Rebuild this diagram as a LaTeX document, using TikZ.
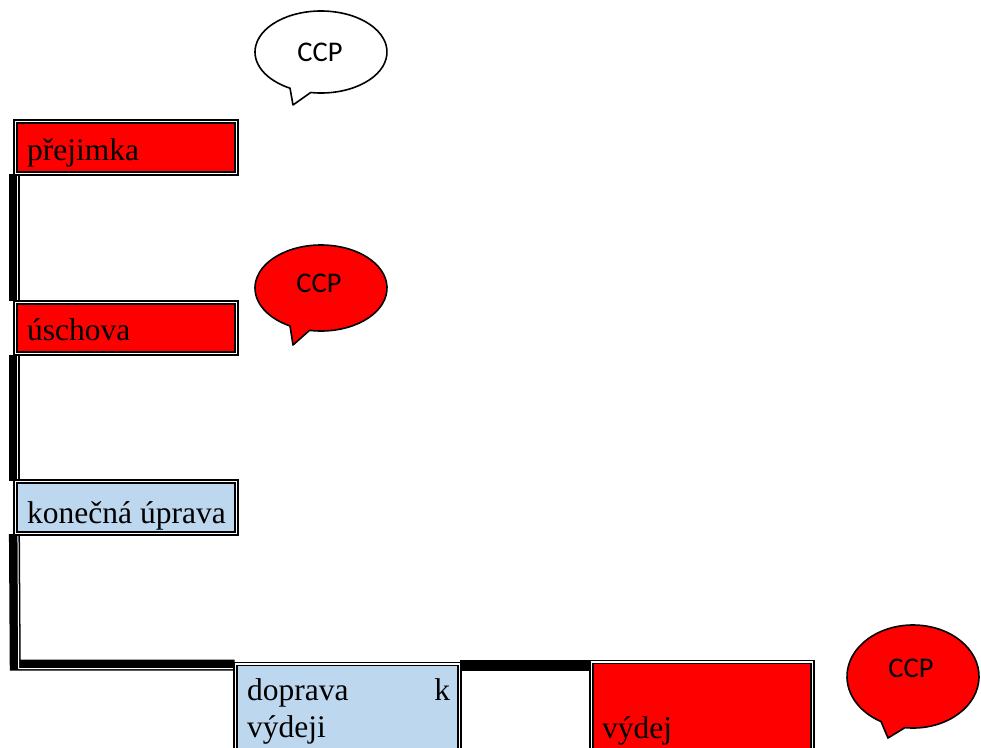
\documentclass[tikz,border=0pt]{standalone}
\usepackage{fontspec}
\setmainfont{Liberation Serif}
\newfontfamily\calibrifont{Carlito}
\usetikzlibrary{backgrounds,calc}
\definecolor{boxred}{RGB}{255,0,0}
\definecolor{boxblue}{RGB}{189,215,238}
\begin{document}
\begin{tikzpicture}[x=1pt,y=-1pt,
  boxst/.style={rectangle, draw=black, double=white, double distance=1.4pt,
    line width=1.6pt, inner sep=0pt, minimum width=221.5pt, minimum height=51.5pt},
  txt/.style={inner sep=0pt, anchor=base west, font=\fontsize{31.5}{37}\selectfont},
  conn/.style={black, line width=11pt},
  connwhite/.style={white, line width=1pt},
  callout/.style={draw=black, line width=1.6pt, line join=round},
  ccptext/.style={inner sep=0pt, font=\calibrifont\fontsize{28.5}{32}\selectfont}]
\useasboundingbox (0,0) rectangle (981,747);

% boxes
\node[boxst, fill=boxred] (b1) at (126,147.5) {};
\node[boxst, fill=boxred] (b2) at (126,328) {};
\node[boxst, fill=boxblue] (b3) at (126,507.5) {};
\node[boxst, fill=boxblue, minimum width=224pt, minimum height=136pt] (b4) at (347.5,732) {};
\node[boxst, fill=boxred, minimum height=138pt] (b5) at (702,731) {};

% texts
\node[txt] (t1) at (27,160) {přejimka};
\node[txt] (t2) at (27,340.5) {úschova};
\node[txt] (t3) at (27,523.3) {konečná úprava};
\node[txt] (t4a) at (247,700) {\hbox to 203pt{doprava\hfill k}};
\node[txt] (t4b) at (247,737) {výdeji};
\node[txt] (t5) at (602,738) {výdej};

% connectors
\coordinate (corner) at (15.25,665);
\begin{scope}[on background layer]
  \draw[conn] (b1.south west) -- (b2.north west);
  \draw[conn] (b2.south west) -- (b3.north west);
  \draw[conn] (b3.south west) -- (corner) -- (corner -| b4.west);
  \draw[conn] (corner -| b4.east) -- (corner -| b5.west);
  \draw[connwhite] ([xshift=3.5pt]b1.south west) -- ([xshift=3.5pt]b2.north west);
  \draw[connwhite] ([xshift=3.5pt]b2.south west) -- ([xshift=3.5pt]b3.north west);
  \draw[connwhite] ([xshift=3.5pt]b3.south west) -- ([shift={(3.5,3.5)}]corner) -- ([yshift=-3.5pt]corner -| b4.west);
\end{scope}

% callouts
\coordinate (e1) at (321,52);
\coordinate (tip1) at (293,105);
\draw[callout, fill=white] ($(e1)+(118:66 and 41)$) -- (tip1) -- ($(e1)+(99:66 and 41)$)
  arc[start angle=99, end angle=-242, x radius=66, y radius=41] -- cycle;
\node[ccptext] (ccp1) at (320,52) {CCP};

\coordinate (e2) at (321,288);
\coordinate (tip2) at (293,345);
\draw[callout, fill=boxred] ($(e2)+(118:66 and 43)$) -- (tip2) -- ($(e2)+(100:66 and 43)$)
  arc[start angle=100, end angle=-242, x radius=66, y radius=43] -- cycle;
\node[ccptext] (ccp2) at (319,283) {CCP};

\coordinate (e3) at (913,676.5);
\coordinate (tip3) at (888,738);
\draw[callout, fill=boxred] ($(e3)+(119:66 and 51.5)$) -- (tip3) -- ($(e3)+(97:66 and 51.5)$)
  arc[start angle=97, end angle=-241, x radius=66, y radius=51.5] -- cycle;
\node[ccptext] (ccp3) at (911,668) {CCP};
\end{tikzpicture}
\end{document}
